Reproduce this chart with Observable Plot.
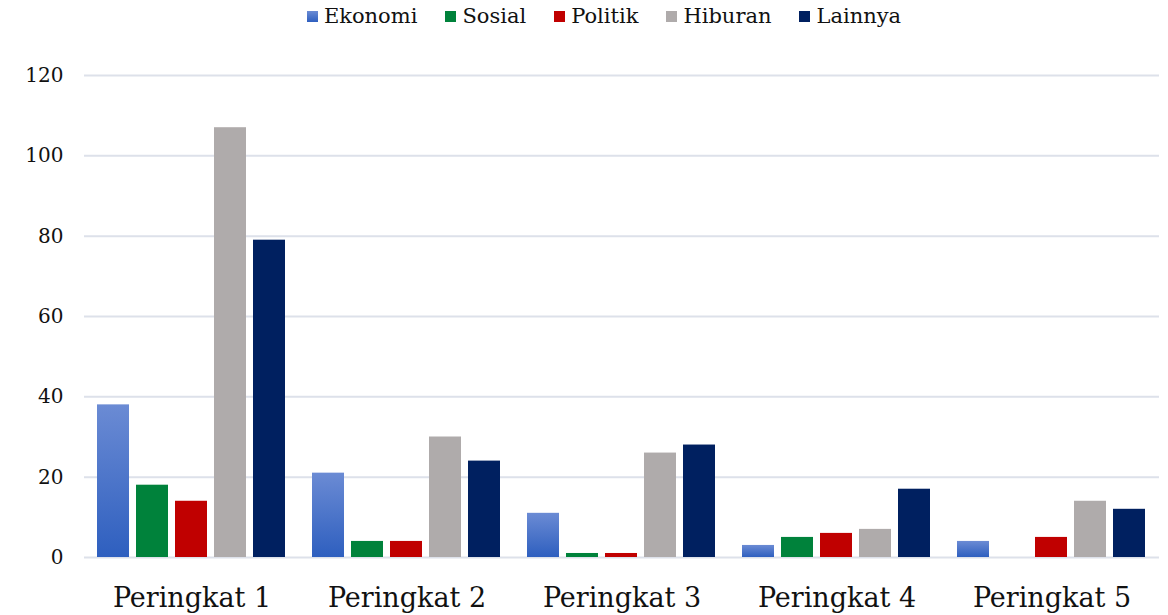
<!DOCTYPE html>
<html>
<head>
<meta charset="utf-8">
<script src="https://cdn.jsdelivr.net/npm/d3@7"></script>
<script src="https://cdn.jsdelivr.net/npm/@observablehq/plot@0.6"></script>
<style>
  body { margin: 0; background: #fff; }
  #legend { height: 32px; display: flex; justify-content: center; align-items: center; gap: 28px; font-family: "DejaVu Serif", serif !important; font-size: 21px; color: #111; padding-left: 40px; box-sizing: border-box; }
  #legend .item { display: flex; align-items: center; gap: 6px; font-family: "DejaVu Serif", serif; }
  #legend .sw { width: 11px; height: 11px; display: inline-block; }
</style>
</head>
<body>
<div id="legend"></div>
<div id="chart"></div>
<script>
const groups = ["Peringkat 1", "Peringkat 2", "Peringkat 3", "Peringkat 4", "Peringkat 5"];
const series = ["Ekonomi", "Sosial", "Politik", "Hiburan", "Lainnya"];
const colors = ["url(#ekoGrad)", "#00823b", "#c00000", "#afabab", "#002060"];
const legendColors = ["#4a78cc", "#00823b", "#c00000", "#afabab", "#002060"];
const ekonomi = [38, 21, 11, 3, 4];
const sosial = [18, 4, 1, 5, 0];
const politik = [14, 4, 1, 6, 5];
const hiburan = [107, 30, 26, 7, 14];
const lainnya = [79, 24, 28, 17, 12];
const yTicks = [0, 20, 40, 60, 80, 100, 120];

const valuesBySeries = [ekonomi, sosial, politik, hiburan, lainnya];
const data = [];
groups.forEach((g, gi) => {
  series.forEach((s, si) => {
    data.push({group: g, series: s, value: valuesBySeries[si][gi]});
  });
});

const legend = document.getElementById("legend");
series.forEach((s, i) => {
  const it = document.createElement("span");
  it.className = "item";
  const sw = document.createElement("span");
  sw.className = "sw";
  sw.style.background = i === 0 ? "linear-gradient(#6b8bd4, #2e5fbf)" : legendColors[i];
  it.appendChild(sw);
  it.appendChild(document.createTextNode(s));
  legend.appendChild(it);
});

const FONT = "'DejaVu Serif', serif";
const chart = Plot.plot({
  width: 1168,
  height: 583,
  marginLeft: 83,
  marginRight: 8,
  marginTop: 43,
  marginBottom: 58,
  style: {fontFamily: FONT, color: "#111", background: "#fff"},
  fx: {domain: groups, paddingInner: 0, paddingOuter: 0, label: null},
  x: {domain: series, paddingInner: 0.17, paddingOuter: 0.3, axis: null},
  y: {domain: [0, 120], label: null},
  color: {domain: series, range: colors},
  marks: [
    Plot.gridY(yTicks, {stroke: "#dde1ea", strokeOpacity: 1, strokeWidth: 2}),
    Plot.barY(data, {fx: "group", x: "series", y: "value", fill: "series"}),
    Plot.axisY(yTicks, {tickSize: 0, tickPadding: 21, fontSize: 20, fontFamily: FONT, label: null}),
    Plot.axisFx({anchor: "bottom", tickSize: 0, tickPadding: 30, fontSize: 27, fontFamily: FONT, label: null})
  ]
});

const svg = d3.select(chart.tagName.toLowerCase() === "svg" ? chart : chart.querySelector("svg"));
const defs = svg.insert("defs", ":first-child");
const grad = defs.append("linearGradient").attr("id", "ekoGrad").attr("x1", 0).attr("y1", 0).attr("x2", 0).attr("y2", 1);
grad.append("stop").attr("offset", "0%").attr("stop-color", "#6b8bd4");
grad.append("stop").attr("offset", "100%").attr("stop-color", "#2e5fbf");

document.getElementById("chart").appendChild(chart);
</script>
</body>
</html>
